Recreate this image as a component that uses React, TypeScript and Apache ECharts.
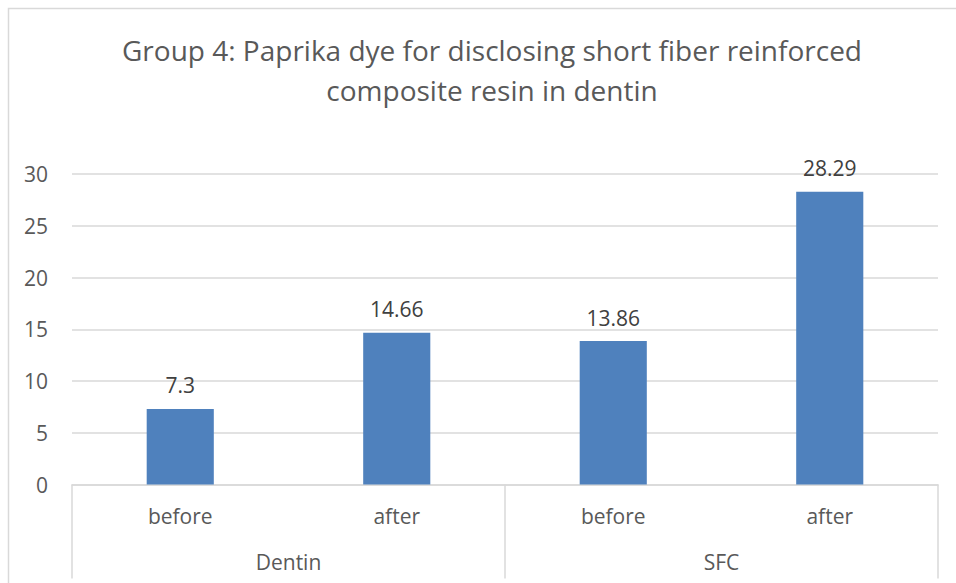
import React, { useEffect, useRef } from "react";
import * as echarts from "echarts";

const titleText = "Group 4: Paprika dye for disclosing short fiber reinforced\ncomposite resin in dentin";
const categories = ["before", "after", "before", "after"];
const groups = ["Dentin", "SFC"];
const values = [7.3, 14.66, 13.86, 28.29];
const valueLabels = ["7.3", "14.66", "13.86", "28.29"];

const FONT = "'Open Sans', 'Noto Sans', sans-serif";

export default function App() {
  const ref = useRef<HTMLDivElement>(null);
  useEffect(() => {
    if (!ref.current) return;
    const chart = echarts.init(ref.current, undefined, { renderer: "svg" });
    chart.setOption({
      animation: false,
      backgroundColor: "#ffffff",
      title: {
        text: titleText,
        left: 487,
        top: 25,
        textAlign: "center",
        textStyle: {
          fontFamily: FONT,
          fontSize: 28,
          fontWeight: "normal",
          color: "#595959",
          lineHeight: 40,
        },
      },
      graphic: [
        {
          type: "rect",
          shape: { x: 8.5, y: 8.5, width: 1000, height: 1000 },
          style: { fill: "none", stroke: "#d9d9d9", lineWidth: 1.5 },
          silent: true,
          z: -1,
        },
      ],
      grid: { left: 72, right: 18, top: 174, bottom: 98.5, containLabel: false },
      xAxis: [
        {
          type: "category",
          data: categories,
          position: "bottom",
          axisLine: { show: true, lineStyle: { color: "#d9d9d9", width: 1.5 } },
          axisTick: { show: false },
          axisLabel: {
            margin: 21,
            fontFamily: FONT,
            fontSize: 21,
            color: "#595959",
          },
        },
        {
          type: "category",
          data: groups,
          position: "bottom",
          offset: 0,
          axisLine: { show: false },
          axisTick: {
            show: true,
            length: 94,
            lineStyle: { color: "#d9d9d9", width: 1.5 },
          },
          axisLabel: {
            margin: 67,
            fontFamily: FONT,
            fontSize: 21,
            color: "#595959",
          },
        },
      ],
      yAxis: {
        type: "value",
        min: 0,
        max: 30,
        interval: 5,
        axisLine: { show: false },
        axisTick: { show: false },
        splitLine: { lineStyle: { color: "#d9d9d9", width: 1.5 } },
        axisLabel: {
          margin: 24,
          fontFamily: FONT,
          fontSize: 21,
          color: "#595959",
        },
      },
      series: [
        {
          type: "bar",
          xAxisIndex: 0,
          data: values,
          barWidth: "31%",
          itemStyle: { color: "#4f81bd" },
          label: {
            show: true,
            position: "top",
            distance: 13,
            fontFamily: FONT,
            fontSize: 21,
            color: "#404040",
            formatter: (p: any) => valueLabels[p.dataIndex],
          },
        },
      ],
    });
    return () => chart.dispose();
  }, []);
  return (
    <div
      ref={ref}
      style={{ position: "fixed", left: 0, top: 0, width: 956, height: 583 }}
    />
  );
}
